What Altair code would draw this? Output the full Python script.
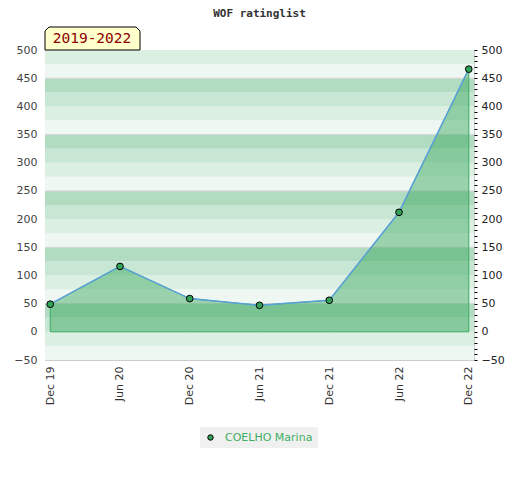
import altair as alt
import pandas as pd

periods = ["Dec 19", "Jun 20", "Dec 20", "Jun 21", "Dec 21", "Jun 22", "Dec 22"]
ratings = [49, 116, 59, 47, 56, 212, 466]
player = "COELHO Marina"
chart_title = "WOF ratinglist"
range_label = "2019-2022"

band_lo = [-50, -25, 0, 25, 50, 75, 100, 125, 150, 175, 200, 225, 250, 275,
           300, 325, 350, 375, 400, 425, 450, 475]
band_colors = ["#eff7f2", "#dcefe3", "#c8e6d4", "#b2dcc2"]

W, H = 429, 310

df = pd.DataFrame({"period": periods, "rating": ratings, "player": player})
bands = pd.DataFrame({
    "lo": band_lo,
    "hi": [v + 25 for v in band_lo],
    "c": [band_colors[(i) % 4] for i in range(len(band_lo))],
})
grid = pd.DataFrame({"g": [50, 150, 250, 350, 450]})

yscale = alt.Scale(domain=[-50, 500], nice=False, zero=False)
xscale = alt.Scale(type="point", padding=0.075)
xenc = alt.X("period:N", sort=periods, scale=xscale, title=None,
             axis=alt.Axis(labelAngle=270, labelAlign="right", labelBaseline="middle",
                           labelPadding=6, ticks=False, domain=False,
                           labelFont="DejaVu Sans", labelFontSize=11, labelColor="#333"))

bg = alt.Chart(bands).mark_rect().encode(
    x=alt.value(0), x2=alt.value(W),
    y=alt.Y("lo:Q", scale=yscale, title=None,
            axis=alt.Axis(orient="left", values=list(range(-50, 501, 50)), ticks=False,
                          domain=False, grid=False, labelPadding=8,
                          labelFont="DejaVu Sans", labelFontSize=11, labelColor="#444")),
    y2="hi:Q",
    fill=alt.Fill("c:N", scale=None),
)

gridlines = alt.Chart(grid).mark_rule(color="#d6d6d6", strokeWidth=1).encode(
    y=alt.Y("g:Q", scale=yscale, axis=None),
    x=alt.value(0), x2=alt.value(W),
)

area = alt.Chart(df).mark_area(color="#2fa356", fillOpacity=0.44, stroke="#3aae62",
                               strokeWidth=1).encode(
    x=xenc,
    y=alt.Y("rating:Q", scale=yscale, axis=None),
    y2=alt.datum(0),
)

line = alt.Chart(df).mark_line(color="#5aa0d8", strokeWidth=1.5).encode(
    x=alt.X("period:N", sort=periods, scale=xscale),
    y=alt.Y("rating:Q", scale=yscale, axis=None),
)

pts = alt.Chart(df).mark_point(filled=True, size=45, stroke="black", strokeWidth=1,
                               opacity=1).encode(
    x=alt.X("period:N", sort=periods, scale=xscale),
    y=alt.Y("rating:Q", scale=yscale,
            axis=alt.Axis(orient="right", values=list(range(-50, 501, 10)), title=None,
                          labelExpr="datum.value % 50 === 0 ? datum.label : ''",
                          labelOverlap=False, tickColor="black", tickSize=3, domain=False,
                          grid=False, labelPadding=4,
                          labelFont="DejaVu Sans", labelFontSize=11, labelColor="#222")),
    fill=alt.Fill("player:N", scale=alt.Scale(range=["#33a05a"]),
                  legend=alt.Legend(title=None, orient="none", legendX=155, legendY=377,
                                    fillColor="#f0f0f0", padding=5, symbolType="circle",
                                    symbolSize=30, symbolStrokeColor="black",
                                    symbolStrokeWidth=1, labelColor="#3cae64",
                                    labelOffset=9,
                                    labelFont="DejaVu Sans", labelFontSize=11)),
)

tag = alt.Chart(pd.DataFrame({"t": [range_label]})).mark_point(
    shape="M-1,0.242 L-1,-0.158 L-0.916,-0.242 L0.916,-0.242 L1,-0.158 L1,0.242 Z",
    size=9025, filled=True, fill="#ffffcc", stroke="black", strokeWidth=1, opacity=1,
).encode(x=alt.value(47.5), y=alt.value(-11.5))

tagtext = alt.Chart(pd.DataFrame({"t": [range_label]})).mark_text(
    font="DejaVu Sans Mono", fontSize=14.5, color="#8b0000", align="center",
    baseline="middle",
).encode(x=alt.value(47), y=alt.value(-11), text="t:N")

titletext = alt.Chart(pd.DataFrame({"t": [chart_title]})).mark_text(
    font="DejaVu Sans Mono", fontSize=11, fontWeight="bold", color="#333",
    align="center", baseline="alphabetic",
).encode(x=alt.value(W / 2), y=alt.value(-33), text="t:N")

chart = alt.layer(bg, gridlines, area, line, pts, tag, tagtext, titletext).resolve_axis(
    y="independent"
).properties(
    width=W, height=H,
    autosize=alt.AutoSizeParams(type="none"),
    padding={"left": 37, "top": 42, "right": 38, "bottom": 112},
).configure_view(stroke="#cccccc", strokeWidth=1)

chart.save("out.html", embed_options={"renderer": "svg", "actions": False})
